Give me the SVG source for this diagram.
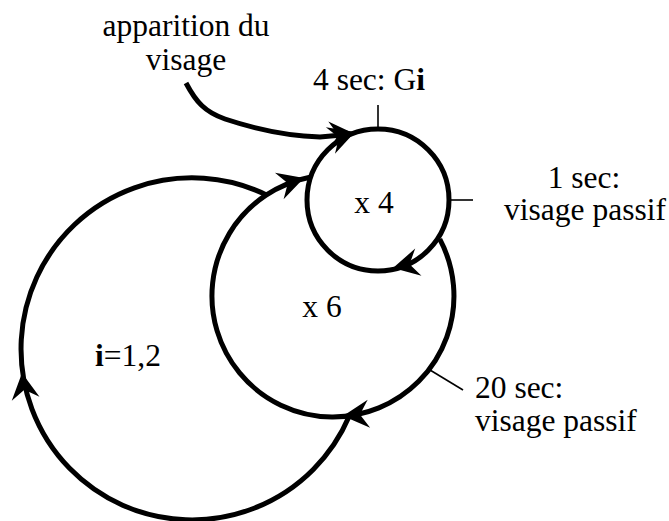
<svg xmlns="http://www.w3.org/2000/svg" xmlns:xlink="http://www.w3.org/1999/xlink" width="669" height="521" viewBox="0 0 669 521">
  <style>
    .loop { fill: none; stroke: #000; stroke-width: 5; }
    .tick { fill: none; stroke: #000; stroke-width: 1.6; }
    .lbl { font-family: "Liberation Serif", "Times New Roman", serif; font-size: 31.5px; fill: #000; }
  </style>
  <defs>
    <path id="ah" d="M0,0 L-26,-14 L-17,0 L-26,14 Z" fill="#000"/>
  </defs>
  <rect width="669" height="521" fill="#fff"/>
  <g id="connectors">
    <path class="loop" d="M186,83 C196,102 205,112 225,119 C255,129 290,136 320,137 L342,135"/>
    <circle class="loop" cx="378" cy="200" r="71"/>
    <path class="loop" d="M439.8,239.2 A121,121 0 1 1 309.9,177.2"/>
    <path class="loop" d="M349.4,415.8 A171,171 0 1 1 266.4,194.9"/>
    <use xlink:href="#ah" transform="translate(355,134) rotate(-3)"/>
    <use xlink:href="#ah" transform="translate(355,132) rotate(-19)"/>
    <use xlink:href="#ah" transform="translate(304,178) rotate(-18)"/>
    <use xlink:href="#ah" transform="translate(393,268) rotate(167)"/>
    <use xlink:href="#ah" transform="translate(343,416) rotate(175)"/>
    <use xlink:href="#ah" transform="translate(22,373) rotate(-98)"/>
    <line class="tick" x1="378" y1="105" x2="378" y2="129"/>
    <line class="tick" x1="449" y1="200" x2="473" y2="200"/>
    <line class="tick" x1="430" y1="370" x2="463" y2="390"/>
  </g>
  <g id="label-apparition">
    <text class="lbl" x="186" y="36" text-anchor="middle">apparition du</text>
    <text class="lbl" x="186" y="70" text-anchor="middle">visage</text>
  </g>
  <g id="label-4sec">
    <text class="lbl" x="313" y="90">4 sec: G<tspan font-weight="bold">i</tspan></text>
  </g>
  <g id="node-x4">
    <text class="lbl" x="374" y="213" text-anchor="middle">x 4</text>
  </g>
  <g id="label-1sec">
    <text class="lbl" x="584" y="188" text-anchor="middle">1 sec:</text>
    <text class="lbl" x="585" y="220" text-anchor="middle">visage passif</text>
  </g>
  <g id="node-x6">
    <text class="lbl" x="322" y="317" text-anchor="middle">x 6</text>
  </g>
  <g id="node-i">
    <text class="lbl" x="95" y="366"><tspan font-weight="bold">i</tspan>=1,2</text>
  </g>
  <g id="label-20sec">
    <text class="lbl" x="475" y="398">20 sec:</text>
    <text class="lbl" x="475" y="431">visage passif</text>
  </g>
</svg>
